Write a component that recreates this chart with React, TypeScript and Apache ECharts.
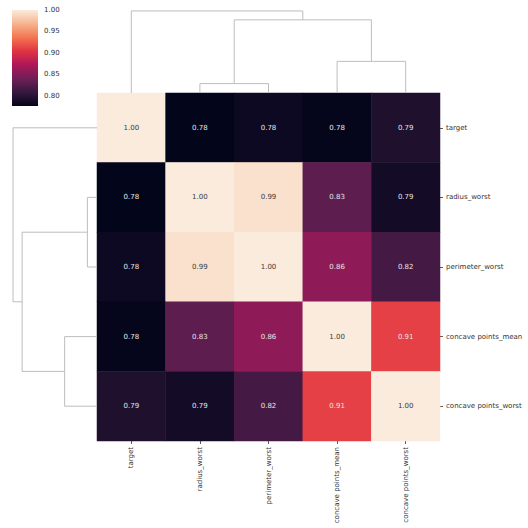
import React, { useEffect, useRef } from "react";
import * as echarts from "echarts";

const labels = ["target", "radius_worst", "perimeter_worst", "concave points_mean", "concave points_worst"];

// correlation matrix (row-major, in clustered order)
const rowTarget = [1.0, 0.776, 0.783, 0.777, 0.794];
const rowRadius = [0.776, 1.0, 0.994, 0.830, 0.787];
const rowPerimeter = [0.783, 0.994, 1.0, 0.856, 0.816];
const rowCpMean = [0.777, 0.830, 0.856, 1.0, 0.910];
const rowCpWorst = [0.794, 0.787, 0.816, 0.910, 1.0];
const matrix = [rowTarget, rowRadius, rowPerimeter, rowCpMean, rowCpWorst];

// linkage: [leftNode, rightNode, distance] (leaves 0..4 in display order)
const linkage: [number, number, number][] = [
  [1, 2, 9.5],
  [3, 4, 32],
  [5, 6, 74],
  [0, 7, 83],
];

const colorbarTicks = [0.8, 0.85, 0.9, 0.95, 1.0];
const vmin = 0.776;
const vmax = 1.0;

const rocketStops = [
  [0, "#03051a"],
  [1 / 7, "#35193e"],
  [2 / 7, "#701f57"],
  [3 / 7, "#ad1759"],
  [4 / 7, "#e13342"],
  [5 / 7, "#f37651"],
  [6 / 7, "#f6b48f"],
  [1, "#faebdd"],
] as [number, string][];

const FONT = "DejaVu Sans";
const TXT = "#333333";
const LINE = "#bdbdbd";

function dendroSegments(): number[][][] {
  const pos: number[] = [0.5, 1.5, 2.5, 3.5, 4.5];
  const h: number[] = [0, 0, 0, 0, 0];
  const segs: number[][][] = [];
  linkage.forEach(([a, b, d]) => {
    const x1 = pos[a], x2 = pos[b];
    segs.push([[x1, h[a]], [x1, d], [x2, d], [x2, h[b]]]);
    pos.push((x1 + x2) / 2);
    h.push(d);
  });
  return segs;
}

export default function App() {
  const ref = useRef<HTMLDivElement>(null);
  useEffect(() => {
    if (!ref.current) return;
    const chart = echarts.init(ref.current, undefined, { renderer: "svg" });
    const heatData: any[] = [];
    matrix.forEach((row, r) =>
      row.forEach((v, c) => {
        heatData.push({
          value: [c, r, v],
          label: { color: v > 0.95 ? "#3a3a3a" : "#e6e6e6" },
        });
      })
    );
    const segs = dendroSegments();
    const topCoords = segs.map((s) => ({ coords: s.map((p) => [p[0], p[1]]) }));
    const leftCoords = segs.map((s) => ({ coords: s.map((p) => [p[1], p[0]]) }));

    const gradStops = rocketStops
      .map(([o, c]) => ({ offset: 1 - o, color: c }))
      .reverse();

    chart.setOption({
      animation: false,
      textStyle: { fontFamily: FONT },
      grid: [
        { left: 97, top: 93, width: 343, height: 348 },
        { left: 12, top: 10, width: 26, height: 96 },
        { left: 97, top: 7, width: 343, height: 86 },
        { left: 9, top: 93, width: 88, height: 348 },
      ],
      xAxis: [
        {
          gridIndex: 0,
          type: "category",
          data: labels,
          axisLine: { show: false },
          axisTick: { show: true, alignWithLabel: true, length: 3, lineStyle: { color: TXT, width: 0.8 } },
          axisLabel: { rotate: 90, fontSize: 7, color: TXT, margin: 6, fontFamily: FONT },
          splitLine: { show: false },
        },
        { gridIndex: 1, type: "value", min: 0, max: 1, show: false },
        { gridIndex: 2, type: "value", min: 0, max: 5, show: false },
        { gridIndex: 3, type: "value", min: 0, max: 87, inverse: true, show: false },
      ],
      yAxis: [
        {
          gridIndex: 0,
          type: "category",
          data: labels,
          inverse: true,
          position: "right",
          axisLine: { show: false },
          axisTick: { show: true, alignWithLabel: true, length: 3, lineStyle: { color: TXT, width: 0.8 } },
          axisLabel: { fontSize: 7, color: TXT, margin: 6, fontFamily: FONT },
          splitLine: { show: false },
        },
        {
          gridIndex: 1,
          type: "value",
          min: vmin,
          max: vmax,
          position: "right",
          axisLine: { show: false },
          splitLine: { show: false },
          axisTick: { show: true, length: 3, customValues: colorbarTicks, lineStyle: { color: TXT, width: 0.8 } },
          axisLabel: {
            show: true,
            customValues: colorbarTicks,
            fontSize: 7,
            color: TXT,
            margin: 6,
            fontFamily: FONT,
            formatter: (v: number) => v.toFixed(2),
          },
        },
        { gridIndex: 2, type: "value", min: 0, max: 87, show: false },
        { gridIndex: 3, type: "value", min: 0, max: 5, inverse: true, show: false },
      ],
      visualMap: {
        type: "continuous",
        show: false,
        min: vmin,
        max: vmax,
        dimension: 2,
        seriesIndex: 0,
        inRange: { color: rocketStops.map((s) => s[1]) },
      },
      series: [
        {
          type: "heatmap",
          xAxisIndex: 0,
          yAxisIndex: 0,
          data: heatData,
          label: {
            show: true,
            fontSize: 7,
            fontFamily: FONT,
            formatter: (p: any) => p.value[2].toFixed(2),
          },
          itemStyle: { borderWidth: 0 },
          emphasis: { disabled: true },
        },
        {
          type: "custom",
          xAxisIndex: 1,
          yAxisIndex: 1,
          silent: true,
          data: [[0, vmin, 1, vmax]],
          renderItem: (params: any, api: any) => {
            const p1 = api.coord([api.value(0), api.value(3)]);
            const p2 = api.coord([api.value(2), api.value(1)]);
            return {
              type: "rect",
              shape: { x: p1[0], y: p1[1], width: p2[0] - p1[0], height: p2[1] - p1[1] },
              style: { fill: new echarts.graphic.LinearGradient(0, 0, 0, 1, gradStops) },
            };
          },
        },
        {
          type: "lines",
          coordinateSystem: "cartesian2d",
          xAxisIndex: 2,
          yAxisIndex: 2,
          polyline: true,
          silent: true,
          data: topCoords,
          lineStyle: { color: LINE, width: 1, opacity: 1 },
        },
        {
          type: "lines",
          coordinateSystem: "cartesian2d",
          xAxisIndex: 3,
          yAxisIndex: 3,
          polyline: true,
          silent: true,
          data: leftCoords,
          lineStyle: { color: LINE, width: 1, opacity: 1 },
        },
      ],
    });
    return () => chart.dispose();
  }, []);
  return (
    <div
      ref={ref}
      style={{ position: "fixed", left: 0, top: 0, width: 528, height: 528, background: "#fff" }}
    />
  );
}
